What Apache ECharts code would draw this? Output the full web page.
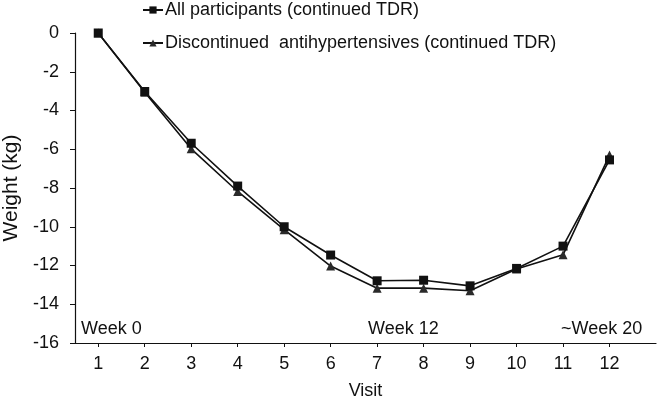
<!DOCTYPE html>
<html>
<head>
<meta charset="utf-8">
<script src="https://cdn.jsdelivr.net/npm/echarts@6/dist/echarts.min.js"></script>
<style>
html,body{margin:0;padding:0;background:#fff;}
#chart{width:661px;height:404px;}
</style>
</head>
<body>
<div id="chart"></div>
<script>
const visits = [1,2,3,4,5,6,7,8,9,10,11,12];
const allParticipants = [0,-3.02,-5.69,-7.9,-10.0,-11.46,-12.79,-12.76,-13.05,-12.15,-11.0,-6.55];
const discontinued = [0,-3.06,-5.98,-8.18,-10.15,-12.03,-13.17,-13.17,-13.3,-12.18,-11.45,-6.3];
const yTicks = [0,-2,-4,-6,-8,-10,-12,-14,-16];
const seriesNames = ['All participants (continued TDR)','Discontinued  antihypertensives (continued TDR)'];
const weekLabels = ['Week 0','Week 12','~Week 20'];

const font = 'Liberation Sans, Arial, sans-serif';
const ink = '#111';
const chart = echarts.init(document.getElementById('chart'));
const pair = arr => visits.map((v,i)=>[v,arr[i]]);

chart.setOption({
  animation:false,
  backgroundColor:'#fff',
  grid:{left:75,right:5,top:33,bottom:61,containLabel:false,outerBoundsMode:'none'},
  legend:{
    data:seriesNames,orient:'vertical',align:'left',left:142,top:1,
    itemWidth:20,itemHeight:9,itemGap:15,padding:0,
    textStyle:{fontFamily:font,fontSize:18,color:ink,padding:[0,0,0,-3]}
  },
  xAxis:{
    type:'value',min:0.5,max:13,
    name:'Visit',nameLocation:'middle',nameGap:39,
    nameTextStyle:{fontFamily:font,fontSize:18,color:ink},
    axisLine:{onZero:false,lineStyle:{color:ink,width:1.2}},
    axisTick:{show:true,length:4,lineStyle:{color:ink},customValues:visits},
    axisLabel:{fontFamily:font,fontSize:18,color:ink,margin:12,customValues:visits},
    splitLine:{show:false}
  },
  yAxis:{
    type:'value',min:-16,max:0,interval:2,
    name:'Weight (kg)',nameLocation:'middle',nameGap:46,
    nameTextStyle:{fontFamily:font,fontSize:21,color:ink},
    axisLine:{show:true,onZero:false,lineStyle:{color:ink,width:1.2}},
    axisTick:{show:true,length:5,lineStyle:{color:ink}},
    axisLabel:{fontFamily:font,fontSize:18,color:ink,margin:16},
    splitLine:{show:false}
  },
  series:[
    {name:seriesNames[0],type:'line',data:pair(allParticipants),
     symbol:'rect',symbolSize:9,showAllSymbol:true,
     lineStyle:{color:ink,width:1.6},itemStyle:{color:ink},z:3},
    {name:seriesNames[1],type:'line',data:pair(discontinued),
     symbol:'triangle',symbolSize:9,showAllSymbol:true,
     lineStyle:{color:ink,width:1.6},itemStyle:{color:'#2a2a2a'},z:2}
  ],
  graphic:[
    {type:'text',left:81,top:320,style:{text:weekLabels[0],font:'18px '+font,fill:ink}},
    {type:'text',left:368,top:320,style:{text:weekLabels[1],font:'18px '+font,fill:ink}},
    {type:'text',left:561,top:320,style:{text:weekLabels[2],font:'18px '+font,fill:ink}}
  ]
});
</script>
</body>
</html>
